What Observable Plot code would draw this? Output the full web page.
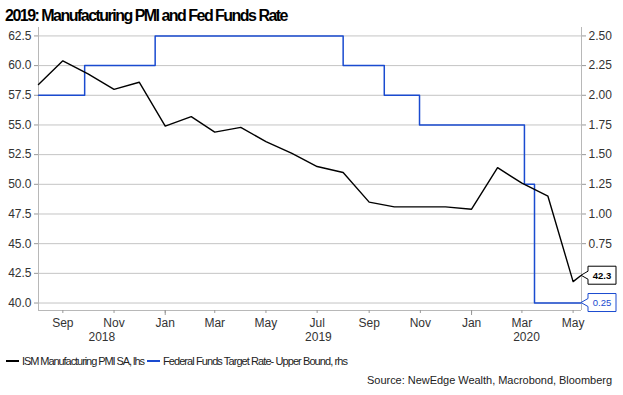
<!DOCTYPE html>
<html>
<head>
<meta charset="utf-8">
<script src="https://cdn.jsdelivr.net/npm/d3@7"></script>
<script src="https://cdn.jsdelivr.net/npm/@observablehq/plot@0.6"></script>
<style>
  html, body { margin: 0; padding: 0; background: #fff; }
  body { width: 623px; height: 395px; position: relative; overflow: hidden; font-family: "Liberation Sans", Arial, sans-serif; }
  #title { position: absolute; left: 5px; top: 7px; font: bold 16px "Liberation Sans", Arial, sans-serif; color: #000; white-space: nowrap; }
  #chart { position: absolute; left: 0; top: 27px; }
  #legend { position: absolute; left: 6px; top: 355px; font: 11px "Liberation Sans", Arial, sans-serif; color: #222; white-space: nowrap; display: flex; align-items: center; }
  #legend .sw { display: inline-block; width: 13px; height: 2px; margin-right: 3px; }
  #legend .item { display: flex; align-items: center; margin-right: 3px; }
  #source { position: absolute; right: 11px; top: 374px; font: 11px "Liberation Sans", Arial, sans-serif; color: #222; white-space: nowrap; }
</style>
</head>
<body>
<div id="title"></div>
<div id="chart"></div>
<div id="legend"></div>
<div id="source"></div>
<script>
// ---- Data ----
const titleText = "2019: Manufacturing PMI and Fed Funds Rate";
const sourceText = "Source: NewEdge Wealth, Macrobond, Bloomberg";
const seriesNames = ["ISM Manufacturing PMI SA, lhs", "Federal Funds Target Rate- Upper Bound, rhs"];
const seriesColors = ["#000000", "#1a4bd0"];

const pmiDates = ["2018-08-03","2018-09-01","2018-10-01","2018-11-01","2018-12-01","2019-01-01","2019-02-01","2019-03-01","2019-04-01","2019-05-01","2019-06-01","2019-07-01","2019-08-01","2019-09-01","2019-10-01","2019-11-01","2019-12-01","2020-01-01","2020-02-01","2020-03-01","2020-04-01","2020-05-01","2020-05-10"];
const pmiValues = [58.4, 60.4, 59.3, 58.0, 58.6, 54.9, 55.7, 54.4, 54.8, 53.6, 52.6, 51.5, 51.0, 48.5, 48.1, 48.1, 48.1, 47.9, 51.4, 50.1, 49.0, 41.8, 42.3];

const fedDates = ["2018-08-03","2018-09-27","2018-12-20","2019-08-01","2019-09-19","2019-10-31","2020-03-04","2020-03-16","2020-05-10"];
const fedValues = [2.00, 2.25, 2.50, 2.25, 2.00, 1.75, 1.25, 0.25, 0.25];

const leftTicks = [40.0, 42.5, 45.0, 47.5, 50.0, 52.5, 55.0, 57.5, 60.0, 62.5];
const rightTicks = [0.75, 1.00, 1.25, 1.50, 1.75, 2.00, 2.25, 2.50];
const yearLabels = [2018, 2019, 2020];
const xStart = "2018-08-03", xEnd = "2020-05-11";
const yMin = 39.37, yMax = 63.21;

// ---- Build ----
const parse = s => new Date(s + "T00:00:00Z");
const xDomain = [parse(xStart), parse(xEnd)];
// right axis (rate) mapped onto left axis (PMI): 2.50 <-> 62.5, 0.25 <-> 40.0
const toLeft = r => 37.5 + 10 * r;
const fromLeft = v => (v - 37.5) / 10;

const pmi = pmiDates.map((d, i) => ({date: parse(d), value: pmiValues[i]}));
const fed = fedDates.map((d, i) => ({date: parse(d), value: toLeft(fedValues[i]), rate: fedValues[i]}));

const monthTicks = d3.utcMonth.every(2).range(xDomain[0], xDomain[1]);
const janTicks = d3.utcYear.range(xDomain[0], xDomain[1]);
const years = yearLabels.map(y => {
  const a = Math.max(+parse(y + "-01-01"), +xDomain[0]);
  const b = Math.min(+parse((y + 1) + "-01-01"), +xDomain[1]);
  return {year: y, date: new Date((a + b) / 2)};
});

const lastPmi = pmi[pmi.length - 1];
const lastFed = fed[fed.length - 1];
const callouts = [
  {date: lastPmi.date, y: lastPmi.value, label: lastPmi.value.toFixed(1), color: seriesColors[0], bold: true},
  {date: lastFed.date, y: lastFed.value, label: lastFed.rate.toFixed(2), color: seriesColors[1], bold: false}
];

function calloutMark(index, scales, values, dimensions) {
  const g = d3.create("svg:g");
  const x0 = dimensions.width - dimensions.marginRight;
  for (const c of callouts) {
    const y = scales.y(c.y);
    const bx = x0 + 7, bw = 28, bh = 18;
    const path = `M${x0},${y} L${bx},${y - 4} L${bx},${y - bh / 2} L${bx + bw},${y - bh / 2} L${bx + bw},${y + bh / 2} L${bx},${y + bh / 2} L${bx},${y + 4} Z`;
    g.append("path").attr("d", path).attr("fill", "#fff").attr("stroke", c.color).attr("stroke-width", 1);
    g.append("text")
      .attr("x", bx + bw / 2).attr("y", y).attr("dy", "0.35em")
      .attr("text-anchor", "middle")
      .attr("font-size", 9.5)
      .attr("font-weight", c.bold ? "bold" : "normal")
      .attr("fill", c.color)
      .text(c.label);
  }
  return g.node();
}

const chart = Plot.plot({
  width: 623,
  height: 318,
  marginLeft: 38,
  marginRight: 42,
  marginTop: 0,
  marginBottom: 35,
  x: {type: "utc", domain: xDomain},
  y: {domain: [yMin, yMax]},
  style: {fontFamily: "'Liberation Sans', Arial, sans-serif", fontSize: "12px", color: "#333", background: "#fff"},
  marks: [
    Plot.ruleY(leftTicks, {stroke: "#c4c4c4", strokeWidth: 1}),
    Plot.ruleX(xDomain, {stroke: "#b8b8b8"}),
    Plot.ruleY([yMin], {stroke: "#b8b8b8"}),
    Plot.axisY(leftTicks, {anchor: "left", tickSize: 4, tickPadding: 3, stroke: "#999", fill: "#333", tickFormat: d => d.toFixed(1), label: null}),
    Plot.axisY(rightTicks.map(toLeft), {anchor: "right", tickSize: 4, tickPadding: 3, stroke: "#999", fill: "#333", tickFormat: d => fromLeft(d).toFixed(2), label: null}),
    Plot.axisX(monthTicks, {tickSize: 3, tickPadding: 5, stroke: "#999", fill: "#333", tickFormat: d3.utcFormat("%b"), label: null}),
    Plot.axisX(janTicks, {tickSize: 5, stroke: "#999", tickFormat: () => "", label: null}),
    Plot.text(years, {x: "date", text: d => String(d.year), frameAnchor: "bottom", dy: 30, fill: "#333", fontSize: 12}),
    Plot.line(fed, {x: "date", y: "value", curve: "step-after", stroke: seriesColors[1], strokeWidth: 1.5}),
    Plot.line(pmi, {x: "date", y: "value", stroke: seriesColors[0], strokeWidth: 1.4}),
    calloutMark
  ]
});
document.getElementById("chart").append(chart);

// Condense text to the reference's tight spacing
function fitWidth(el, target) {
  el.style.letterSpacing = "0px";
  const w = el.getBoundingClientRect().width;
  const n = el.textContent.length;
  el.style.letterSpacing = ((target - w) / n).toFixed(3) + "px";
}

const titleEl = document.getElementById("title");
titleEl.textContent = titleText;
fitWidth(titleEl, 282);

const sourceEl = document.getElementById("source");
sourceEl.textContent = sourceText;
fitWidth(sourceEl, 245);

const legend = document.getElementById("legend");
const legendWidths = [122, 184];
seriesNames.forEach((name, i) => {
  const item = document.createElement("span");
  item.className = "item";
  const sw = document.createElement("span");
  sw.className = "sw";
  sw.style.background = seriesColors[i];
  const t = document.createElement("span");
  t.textContent = name;
  item.append(sw, t);
  legend.append(item);
  fitWidth(t, legendWidths[i]);
});
</script>
</body>
</html>
